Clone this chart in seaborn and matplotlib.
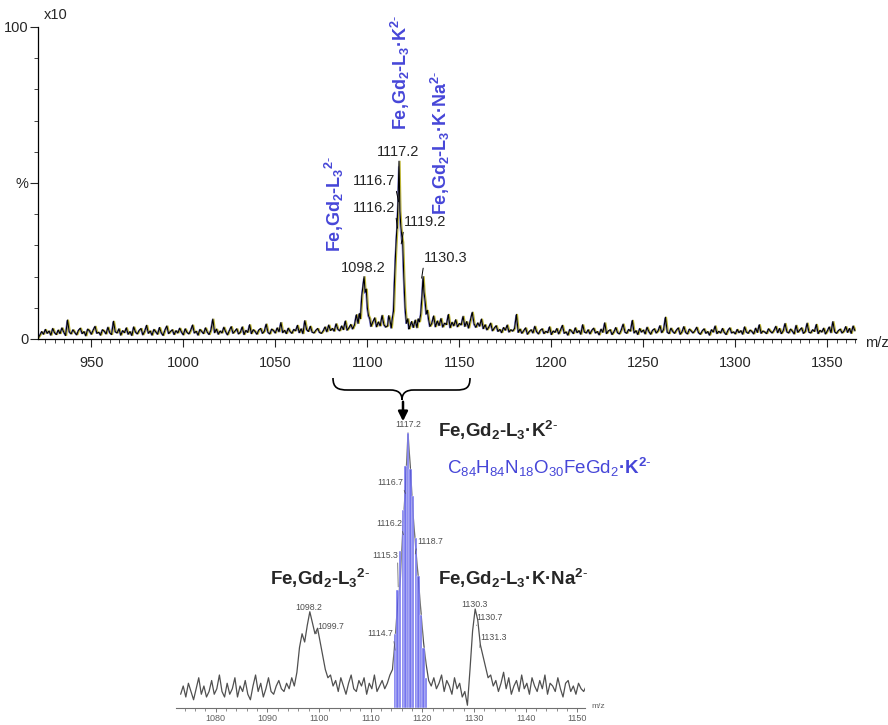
import numpy as np
import seaborn as sns
import matplotlib.pyplot as plt
from matplotlib.path import Path
from matplotlib.patches import PathPatch, FancyArrowPatch

# ---- top spectrum: background noise on a 1 m/z grid starting at 921 ----
top_bg = [0.3, 1.2, 2.4, 1.5, 3.1, 1.8, 2.6, 1.2, 3.4, 2.0, 1.4, 2.9, 1.7, 3.6, 2.2, 1.1, 6.1, 2.3, 1.6, 3.0,
          2.1, 1.3, 2.8, 3.5, 1.7, 2.4, 1.0, 3.2, 2.6, 1.5, 2.9, 4.1, 1.8, 2.2, 1.2, 3.0, 2.5, 1.6, 3.8, 2.0,
          1.4, 5.7, 2.3, 1.9, 3.3, 1.2, 2.7, 2.0, 3.6, 1.5, 2.4, 1.1, 3.9, 2.2, 1.6, 2.8, 3.4, 1.3, 2.5, 4.4,
          1.8, 2.6, 1.2, 3.1, 2.3, 1.5, 3.7, 2.0, 1.1, 2.9, 4.2, 1.7, 2.4, 3.0, 1.4, 2.7, 1.9, 3.5, 2.2, 1.3,
          3.3, 2.1, 1.6, 2.8, 4.5, 1.9, 2.5, 1.2, 3.1, 2.4, 1.7, 3.6, 2.2, 1.4, 2.9, 6.4, 2.0, 3.2, 1.5, 2.6,
          1.9, 3.8, 2.3, 1.3, 2.7, 4.0, 1.8, 2.5, 3.3, 1.6, 2.2, 3.9, 1.4, 2.8, 2.1, 4.6, 1.7, 3.0, 2.4, 1.5,
          2.9, 3.4, 1.8, 2.5, 4.8, 2.1, 1.6, 3.2, 2.7, 1.9, 3.6, 2.3, 5.3, 2.0, 2.8, 1.7, 3.5, 2.4, 1.8, 3.1,
          2.6, 4.4, 2.0, 3.3, 1.7, 5.9, 3.0, 2.4, 4.1, 2.2, 1.9, 2.8, 3.4, 2.1, 1.8, 2.6, 3.9, 2.3, 4.5, 2.7,
          3.4, 2.5, 4.9, 3.1, 2.6, 4.2, 3.0, 5.8, 2.8, 3.6, 4.7, 3.2, 5.4, 4.0, 7.1, 5.0, 9.0, 15, 14, 9.0,
          6.5, 4.2, 5.5, 6.8, 3.9, 5.5, 4.2, 7.6, 4.6, 3.8, 5.9, 4.1, 6.5, 9, 25, 37, 57, 36, 31, 12,
          5.0, 6.3, 4.0, 5.6, 3.7, 6.1, 4.4, 5.5, 8, 18, 13, 8, 6.2, 4.0, 5.2, 7.4, 3.9, 5.8, 4.3, 6.6,
          3.8, 5.1, 4.6, 7.9, 3.6, 5.4, 4.2, 6.2, 3.9, 5.0, 4.5, 7.3, 4.0, 5.6, 3.5, 6.0, 8.6, 4.8, 3.7, 5.2,
          4.1, 6.4, 3.3, 4.6, 2.9, 3.8, 5.1, 2.6, 3.5, 4.3, 2.4, 3.1, 2.0, 3.7, 2.8, 4.5, 2.2, 3.0, 2.5, 3.4,
          7.9, 2.1, 3.2, 1.8, 2.7, 3.6, 1.5, 2.4, 3.0, 1.9, 4.1, 2.3, 1.6, 2.8, 3.3, 1.7, 2.5, 2.0, 3.9, 1.4,
          2.6, 2.1, 3.4, 1.6, 2.9, 4.4, 1.8, 2.3, 1.2, 3.1, 2.5, 1.7, 3.6, 2.0, 2.7, 1.5, 4.6, 2.2, 1.9, 3.0,
          1.6, 2.8, 3.5, 1.9, 2.4, 1.3, 3.2, 2.1, 5.2, 1.7, 2.6, 3.0, 1.4, 2.3, 3.7, 2.0, 1.6, 2.9, 4.8, 2.2,
          1.8, 3.1, 2.5, 6.0, 1.9, 2.7, 1.4, 3.4, 2.2, 2.9, 1.6, 3.8, 2.4, 1.5, 2.8, 3.3, 1.9, 2.6, 4.3, 2.0,
          3.0, 7.0, 2.2, 1.7, 3.5, 2.4, 1.8, 2.9, 3.6, 1.5, 2.3, 4.0, 2.1, 1.6, 3.2, 2.6, 1.9, 2.7, 3.8, 2.0,
          1.5, 2.6, 3.3, 1.8, 2.4, 1.2, 3.0, 2.2, 4.2, 1.7, 2.5, 1.9, 3.4, 2.1, 1.4, 2.8, 3.6, 1.9, 2.3, 1.6,
          3.1, 2.0, 2.7, 1.5, 3.9, 2.2, 1.8, 2.9, 2.4, 1.6, 3.5, 2.1, 4.6, 1.8, 2.6, 2.2, 1.7, 3.3, 2.5, 1.9,
          2.8, 4.1, 2.0, 3.4, 1.7, 2.6, 5.0, 2.3, 1.9, 3.2, 2.5, 1.6, 4.4, 2.1, 2.9, 3.6, 1.8, 2.4, 5.1, 2.2,
          1.9, 3.0, 2.4, 4.7, 1.7, 2.8, 2.2, 3.5, 1.6, 2.6, 3.9, 2.0, 5.6, 2.3, 1.8, 2.7, 3.2, 1.9, 2.5, 4.0,
          2.1, 3.4, 1.8, 4.2, 2.6]

# peak regions of the top spectrum (replace the background there)
pk1_mz = [1093, 1094, 1095, 1095.6, 1096.2, 1097, 1097.6, 1098.2, 1098.8, 1099.4, 1100, 1100.6, 1101.3, 1102, 1103]
pk1_int = [4.5, 7.8, 5.0, 8.2, 6.5, 14, 17, 20, 15, 16, 10, 7.5, 6.5, 4.0, 5.5]
pk2_mz = [1111, 1111.6, 1112.3, 1113, 1113.6, 1114.2, 1114.7, 1115.3, 1115.8, 1116.2, 1116.7, 1117.2, 1117.7,
          1118.2, 1118.7, 1119.2, 1119.8, 1120.5, 1121.2, 1122, 1122.6, 1123]
pk2_int = [4.2, 7.5, 6.0, 3.5, 6.8, 9, 18, 27, 33, 37, 45, 57, 41, 36, 33, 31, 20, 10, 5, 6.5, 3.2, 3.8]
pk3_mz = [1127, 1127.6, 1128.3, 1129, 1129.7, 1130.3, 1130.8, 1131.4, 1132, 1132.6, 1133.3, 1134, 1135]
pk3_int = [3.6, 6.5, 5.5, 8, 14, 20, 15, 12, 8, 9.2, 6.2, 4.0, 5.0]

# ---- bottom (zoomed) spectrum on a 0.5 m/z grid starting at 1073.2 ----
zoom_int = [5, 8, 4, 9, 6, 3, 7, 11, 5, 8, 4, 6, 10, 5, 7, 12, 6, 4, 9, 5,
            7, 11, 4, 8, 6, 10, 5, 3, 8, 12, 6, 9, 4, 7, 11, 6, 5, 8, 10, 7,
            6, 9, 7, 11, 8, 13, 22, 27, 24, 30, 35, 31, 27, 29, 24, 19, 14, 11, 12, 8,
            10, 6, 11, 8, 5, 9, 12, 7, 6, 10, 8, 11, 5, 9, 7, 12, 6, 8, 10, 7,
            9, 12, 14, 25, 38, 46, 65, 80, 100, 86, 70, 58, 47, 35, 24, 16, 10, 8, 11, 7,
            9, 12, 6, 10, 8, 5, 11, 7, 9, 4, 6, 1, 14, 28, 36, 32, 23, 19, 15, 11,
            12, 8, 10, 6, 9, 13, 7, 11, 5, 8, 10, 6, 12, 7, 9, 5, 11, 8, 6, 10,
            7, 12, 5, 9, 8, 6, 11, 7, 4, 9, 10, 6, 8, 5, 9, 7, 6, 8]

# simulated isotope pattern (blue bars)
iso_mz = [1114.7, 1115.2, 1115.7, 1116.2, 1116.7, 1117.2, 1117.7, 1118.2, 1118.7, 1119.2, 1119.7, 1120.2, 1120.7]
iso_int = [27, 43, 57, 72, 88, 100, 87, 77, 62, 48, 34, 22, 11]

top_ticks = [950, 1000, 1050, 1100, 1150, 1200, 1250, 1300, 1350]
zoom_ticks = [1080, 1090, 1100, 1110, 1120, 1130, 1140, 1150]

BLUE = '#4646d8'
SUP = r'$^{\mathbf{2}\text{-}}$'

sns.set_style('white')
plt.rcParams['font.family'] = ['Liberation Sans', 'DejaVu Sans']
plt.rcParams['mathtext.fontset'] = 'custom'
plt.rcParams['mathtext.rm'] = 'Liberation Sans'
plt.rcParams['mathtext.it'] = 'Liberation Sans:italic'
plt.rcParams['mathtext.bf'] = 'Liberation Sans:bold'

W, H = 888, 725
fig = plt.figure(figsize=(W / 100, H / 100), dpi=100)

# assemble top trace
bg_mz = 921 + np.arange(len(top_bg))
bg_int = np.array(top_bg)
keep = np.ones(len(bg_mz), bool)
for lo, hi in [(1092.5, 1103.5), (1110.5, 1123.5), (1126.5, 1135.5)]:
    keep &= ~((bg_mz > lo) & (bg_mz < hi))
t_mz = np.concatenate([bg_mz[keep], pk1_mz, pk2_mz, pk3_mz])
t_int = np.concatenate([bg_int[keep], pk1_int, pk2_int, pk3_int])
order = np.argsort(t_mz)
t_mz, t_int = t_mz[order], t_int[order]

ax1 = fig.add_axes([38 / W, 1 - 339 / H, (856 - 38) / W, (339 - 27) / H])
sns.lineplot(x=t_mz + 0.6, y=t_int, ax=ax1, color='#bdb535', linewidth=0.8, estimator=None)
sns.lineplot(x=t_mz - 0.4, y=t_int * 0.97, ax=ax1, color='#6a6ad0', linewidth=0.5, estimator=None)
sns.lineplot(x=t_mz, y=t_int, ax=ax1, color='black', linewidth=0.8, estimator=None)
ax1.set_xlim(921, 921 + 818 / 1.84)
ax1.set_ylim(0, 100)
ax1.set_xlabel('')
ax1.set_ylabel('')
sns.despine(ax=ax1)
ax1.set_xticks(top_ticks)
ax1.set_xticks(np.arange(925, 1366, 5), minor=True)
ax1.set_yticks([0, 50, 100])
ax1.set_yticklabels(['0', '%', '100'])
ax1.set_yticks(np.arange(0, 101, 10), minor=True)
ax1.tick_params(axis='both', which='major', direction='out', length=6, width=0.8,
                labelsize=10.5, bottom=True, left=True)
ax1.tick_params(axis='both', which='minor', direction='out', length=3, width=0.6,
                bottom=True, left=True)
ax1.tick_params(axis='x', pad=6)
ax1.tick_params(axis='y', pad=1)
for s in ['left', 'bottom']:
    ax1.spines[s].set_linewidth(0.9)
    ax1.spines[s].set_color('black')

fig.text(44 / W, 1 - 15 / H, 'x10', fontsize=10.5, va='center', ha='left')
fig.text(865 / W, 1 - 343 / H, 'm/z', fontsize=10.5, va='center', ha='left')

# peak labels top
ax1.text(1097.6, 22.8, '1098.2', ha='center', va='center', fontsize=10.5)
ax1.text(1116.7, 60, '1117.2', ha='center', va='center', fontsize=10.5)
lead = dict(arrowstyle='-', lw=0.7, color='black', shrinkA=0, shrinkB=0)
ax1.annotate('1116.7', xy=(1117.0, 44), xytext=(1115.4, 50.6), ha='right', va='center',
             fontsize=10.5, arrowprops=dict(lead, relpos=(1, 0)))
ax1.annotate('1116.2', xy=(1116.4, 35.5), xytext=(1115.4, 42), ha='right', va='center',
             fontsize=10.5, arrowprops=dict(lead, relpos=(1, 0)))
ax1.annotate('1119.2', xy=(1118.4, 30.5), xytext=(1119.8, 37.5), ha='left', va='center',
             fontsize=10.5, arrowprops=dict(lead, relpos=(0, 0)))
ax1.annotate('1130.3', xy=(1129.5, 19.5), xytext=(1130.6, 26), ha='left', va='center',
             fontsize=10.5, arrowprops=dict(lead, relpos=(0, 0)))

# blue rotated assignments
lab_L3 = r'Fe,Gd$_\mathbf{2}$-L$_\mathbf{3}$' + SUP
lab_K = r'Fe,Gd$_\mathbf{2}$-L$_\mathbf{3}$·K' + SUP
lab_KNa = r'Fe,Gd$_\mathbf{2}$-L$_\mathbf{3}$·K·Na' + SUP
for x, y, s in [(1082.0, 27.9, lab_L3), (1117.9, 67, lab_K), (1139.7, 39.7, lab_KNa)]:
    ax1.text(x, y, s, rotation=90, ha='center', va='bottom', color=BLUE,
             fontsize=13, fontweight='bold', clip_on=False)

# ---- brace and arrow ----
def P(px, py):
    return (px / W, 1 - py / H)

verts = [P(333, 378), P(333, 388), P(338, 390), P(348, 390), P(390, 390),
         P(398, 390), P(402, 393), P(402, 400), P(402, 393), P(406, 390), P(414, 390),
         P(456, 390), P(466, 390), P(470, 388), P(470, 378)]
codes = [Path.MOVETO, Path.CURVE4, Path.CURVE4, Path.CURVE4, Path.LINETO,
         Path.CURVE4, Path.CURVE4, Path.CURVE4, Path.CURVE4, Path.CURVE4, Path.CURVE4,
         Path.LINETO, Path.CURVE4, Path.CURVE4, Path.CURVE4]
fig.patches.append(PathPatch(Path(verts, codes), transform=fig.transFigure, fill=False,
                             lw=1.2, color='black'))
fig.patches.append(FancyArrowPatch(P(403, 399), P(403, 424), transform=fig.transFigure,
                                   arrowstyle='-|>', mutation_scale=14, lw=1.8, color='black'))

# ---- bottom zoom spectrum ----
z_mz = 1073.2 + 0.5 * np.arange(len(zoom_int))
ax2 = fig.add_axes([176 / W, 1 - 708 / H, (585 - 176) / W, (708 - 419) / H])
sns.lineplot(x=z_mz, y=zoom_int, ax=ax2, color='#505050', linewidth=0.9, estimator=None)
ax2.bar(iso_mz, iso_int, width=0.46, color='#5c5cec', alpha=0.85,
        edgecolor='white', linewidth=0.35, zorder=3)
ax2.set_xlim(1072.3, 1072.3 + 409 / 5.167)
ax2.set_ylim(0, (708 - 419) / 2.75)
ax2.set_xlabel('')
ax2.set_ylabel('')
sns.despine(ax=ax2, left=True)
ax2.set_yticks([])
ax2.set_xticks(zoom_ticks)
ax2.set_xticklabels([str(t) for t in zoom_ticks])
ax2.set_xticks(np.arange(1074, 1152, 2), minor=True)
ax2.spines['bottom'].set_color('#707070')
ax2.spines['bottom'].set_linewidth(0.8)
ax2.tick_params(axis='x', which='major', direction='out', length=3, width=0.6,
                colors='#606060', labelsize=6.5, bottom=True, pad=1.5)
ax2.tick_params(axis='x', which='minor', direction='out', length=2, width=0.5,
                colors='#606060', bottom=True)
fig.text(591 / W, 1 - 706 / H, 'm/z', fontsize=6, color='#606060', va='center', ha='left')

small = dict(fontsize=6.3, color='#505050')
slead = dict(arrowstyle='-', lw=0.5, color='#505050', shrinkA=0, shrinkB=0)
ax2.text(1117.2, 101.5, '1117.2', ha='center', va='bottom', **small)
ax2.text(1097.9, 36.7, '1098.2', ha='center', va='center', **small)
ax2.text(1130.1, 37.8, '1130.3', ha='center', va='center', **small)
for txt, xy, xyt, ha in [('1116.7', (1116.7, 78), (1116.2, 82), 'right'),
                         ('1116.2', (1116.3, 63), (1116.0, 67), 'right'),
                         ('1115.3', (1115.3, 44), (1115.2, 55.6), 'right'),
                         ('1114.7', (1114.7, 21), (1114.4, 27), 'right'),
                         ('1118.7', (1118.6, 56), (1118.9, 60.7), 'left'),
                         ('1099.7', (1099.5, 27), (1099.6, 29.5), 'left'),
                         ('1130.7', (1130.5, 30), (1130.5, 33), 'left'),
                         ('1131.3', (1131.1, 22), (1131.2, 25.8), 'left')]:
    rp = (1, 0) if ha == 'right' else (0, 0)
    ax2.annotate(txt, xy=xy, xytext=xyt, ha=ha, va='center',
                 arrowprops=dict(slead, relpos=rp), **small)

# assignments for the zoom panel
fig.text(438 / W, 1 - 430 / H, r'Fe,Gd$_\mathbf{2}$-L$_\mathbf{3}$·K' + SUP,
         fontsize=13.5, fontweight='bold', va='center', ha='left')
fig.text(447 / W, 1 - 467 / H,
         r'C$_{84}$H$_{84}$N$_{18}$O$_{30}$FeGd$_2$$\mathbf{·K}$' + SUP,
         fontsize=13.5, color=BLUE, va='center', ha='left')
fig.text(270 / W, 1 - 578 / H, r'Fe,Gd$_\mathbf{2}$-L$_\mathbf{3}$' + SUP,
         fontsize=13.5, fontweight='bold', va='center', ha='left')
fig.text(438 / W, 1 - 578 / H, r'Fe,Gd$_\mathbf{2}$-L$_\mathbf{3}$·K·Na' + SUP,
         fontsize=13.5, fontweight='bold', va='center', ha='left')

fig.savefig('out.png', dpi=100)
